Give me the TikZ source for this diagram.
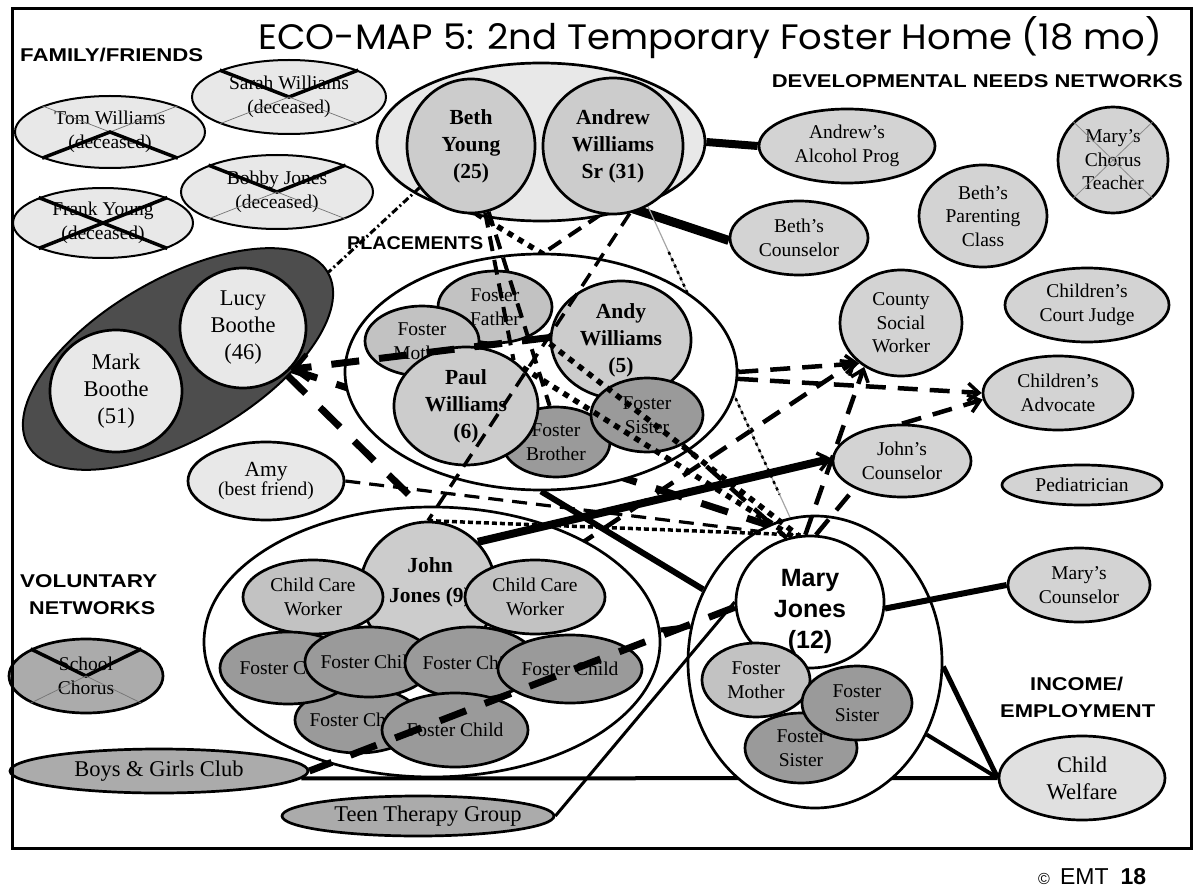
\documentclass[tikz,border=0pt]{standalone}
\usepackage{fontspec}
\usepackage{graphicx}
\setmainfont{Liberation Serif}
\newfontfamily\hd{Liberation Sans}
\newfontfamily\tfont{Poppins}
\usetikzlibrary{shapes.geometric,arrows.meta}
\pgfdeclarelayer{bg}
\pgfsetlayers{bg,main}
\newcommand\fsz[2]{\fontsize{#1}{#2}\selectfont}
\newcommand\hdg[2]{\resizebox{#1pt}{\height}{\hd\bfseries\fsz{18.5}{20}#2}}
\newcommand\xcr[3]{\draw[#2] (#1.north west) -- (#1.center) -- (#1.north east);
  \draw[#3] (#1.south west) -- (#1.center) -- (#1.south east);}
\definecolor{clt}{HTML}{E8E8E8}
\definecolor{cmid}{HTML}{CCCCCC}
\definecolor{cdev}{HTML}{D3D3D3}
\definecolor{cfos}{HTML}{C2C2C2}
\definecolor{cdk}{HTML}{9A9A9A}
\definecolor{cvol}{HTML}{ABABAB}
\definecolor{cboo}{HTML}{4D4D4D}
\definecolor{ccw}{HTML}{E0E0E0}
\tikzset{
  ell/.style={ellipse, draw=black, line width=2.7pt, inner sep=-40pt, align=center},
  wh/.style 2 args={minimum width=#1pt, minimum height=#2pt},
  rm/.style={font=\fsz{19.5}{23.5}},
  rmL/.style={font=\fsz{22.5}{27}},
  bd/.style={font=\fsz{21.5}{27}\bfseries},
  xk/.style={line width=3.5pt},
  xt/.style={line width=0.7pt, draw=black!55},
  xg/.style={line width=0.8pt, draw=black!45},
  thickdash/.style={line width=7pt, dash pattern=on 28pt off 20pt},
  meddash/.style={line width=4.5pt, dash pattern=on 20pt off 12pt},
  thindash/.style={line width=3.2pt, dash pattern=on 15pt off 9pt},
  sqdot/.style={line width=5.5pt, dash pattern=on 6pt off 6pt},
  smdot/.style={line width=3.5pt, dash pattern=on 5pt off 3pt},
  dashdot/.style={line width=3pt, dash pattern=on 7pt off 3pt on 2pt off 3pt},
  tipL/.style={-{Straight Barb[length=14pt,width=26pt,line width=5pt]}},
  tipM/.style={-{Straight Barb[length=11pt,width=18pt,line width=3.5pt]}},
}
\begin{document}
\begin{tikzpicture}[x=1pt,y=-1pt]
\useasboundingbox (0,0) rectangle (1196,893);

% ---------- title and headings
\node[anchor=base west, inner sep=0] (title) at (258,50) {\resizebox{904pt}{33pt}{\tfont ECO-MAP 5: 2nd Temporary Foster Home (18 mo)}};
\node[anchor=base west, inner sep=0] (hfam) at (20,62) {\hdg{183}{FAMILY/FRIENDS}};
\node[anchor=base east, inner sep=0] (hdev) at (1183,88) {\hdg{411}{DEVELOPMENTAL NEEDS NETWORKS}};
\node[anchor=base west, inner sep=0] (hvol1) at (20,587) {\hdg{137}{VOLUNTARY}};
\node[anchor=base west, inner sep=0] (hvol2) at (29,614) {\hdg{126}{NETWORKS}};
\node[anchor=base west, inner sep=0] (hinc1) at (1030,690) {\hdg{93}{INCOME/}};
\node[anchor=base west, inner sep=0] (hinc2) at (1000,717) {\hdg{155}{EMPLOYMENT}};
\node[anchor=base west, inner sep=0] (foot) at (1038,884) {\hd{\fsz{16}{16}©}\hspace{10pt}\fsz{23}{23}EMT\hspace{12pt}\bfseries 18};

% ---------- family / friends
\node[ell, line width=2pt, fill=clt, wh={194}{74}, rm] (sarah) at (289,97) {Sarah Williams\\(deceased)};
\node[ell, line width=2pt, fill=clt, wh={190}{72}, rm] (tom) at (110,132) {Tom Williams\\(deceased)};
\node[ell, line width=2pt, fill=clt, wh={192}{74}, rm] (bobby) at (277,192) {Bobby Jones\\(deceased)};
\node[ell, line width=2pt, fill=clt, wh={180}{70}, rm] (frank) at (103,223) {Frank Young\\(deceased)};
\xcr{sarah}{xk}{xt}
\xcr{tom}{xt}{xk}
\xcr{bobby}{xk}{xt}
\xcr{frank}{xk}{xk}

% ---------- parents
\node[ell, fill=clt, wh={328}{158}] (parents) at (541,142) {};
\node[ell, fill=cmid, wh={128}{134}, bd] (beth) at (471,146) {Beth\\Young\\(25)};
\node[ell, fill=cmid, wh={140}{136}, bd] (andrew) at (613,146) {Andrew\\Williams\\Sr (31)};

% ---------- developmental needs
\node[ell, fill=cdev, wh={176}{74}, rm] (alc) at (847,146) {Andrew’s\\Alcohol Prog};
\node[ell, fill=cdev, wh={138}{74}, rm] (bcoun) at (799,238) {Beth’s\\Counselor};
\node[ell, fill=cdev, wh={128}{102}, rm] (bpar) at (983,216) {Beth’s\\Parenting\\Class};
\node[ell, fill=cdev, wh={110}{106}, rm] (mchorus) at (1113,160) {Mary’s\\Chorus\\Teacher};
\xcr{mchorus}{xg}{xg}
\node[ell, fill=cdev, wh={122}{106}, rm] (csw) at (901,323) {County\\Social\\Worker};
\node[ell, fill=cdev, wh={164}{74}, rm] (judge) at (1087,305) {Children’s\\Court Judge};
\node[ell, fill=cdev, wh={150}{74}, rm] (adv) at (1058,393) {Children’s\\Advocate};
\node[ell, fill=cdev, wh={138}{72}, rm] (jcoun) at (902,461) {John’s\\Counselor};
\node[ell, fill=cdev, wh={160}{40}, rm] (ped) at (1082,485) {Pediatrician};
\node[ell, fill=cdev, wh={142}{74}, rm] (mcoun) at (1079,585) {Mary’s\\Counselor};
\node[ell, fill=ccw, wh={166}{84}, rmL] (cw) at (1082,778) {Child\\Welfare};

% ---------- Boothe
\node[ell, line width=2pt, fill=cboo, rotate=30, wh={346}{160}] (boothe) at (178,359) {};
\node[ell, fill=clt, wh={126}{120}, rmL] (lucy) at (243,328) {Lucy\\Boothe\\(46)};
\node[ell, fill=clt, wh={132}{122}, rmL] (mark) at (116,391) {Mark\\Boothe\\(51)};
\node[ell, fill=clt, wh={156}{78}] (amy) at (266,481) {{\fsz{21.5}{24}Amy}\\{\fsz{19.5}{23}(best friend)}};

% ---------- placements
\node[ell, fill=white, wh={392}{236}] (place) at (541,372) {};
\node[anchor=base west, inner sep=0] (hpl) at (347,250) {\hdg{136}{PLACEMENTS}};
\node[ell, fill=cfos, wh={114}{72}, rm] (ffather) at (495,307) {Foster\\Father};
\node[ell, fill=cfos, wh={114}{70}, rm] (fmother) at (422,341) {Foster\\Mother};
\node[ell, fill=cmid, wh={140}{118}, bd] (andy) at (621,340) {Andy\\Williams\\(5)};
\node[ell, fill=cdk, wh={108}{70}, rm] (fbro) at (556,442) {Foster\\Brother};
\node[ell, fill=cdk, wh={112}{74}, rm] (fsis) at (647,415) {Foster\\Sister};
\node[ell, fill=cmid, wh={144}{118}, bd] (paul) at (466,406) {Paul\\Williams\\(6)};

% ---------- John group
\node[ell, fill=white, wh={456}{270}] (jgroup) at (432,642) {};
\node[ell, fill=cmid, wh={136}{136}] (john) at (428,590) {};
\node[font=\fsz{21.5}{30}\bfseries, align=center] (johntxt) at (430,582) {John\\Jones (9)};
\node[ell, fill=cfos, wh={140}{74}, rm] (ccw1) at (313,597) {Child Care\\Worker};
\node[ell, fill=cfos, wh={140}{74}, rm] (ccw2) at (535,597) {Child Care\\Worker};
\node[ell, fill=cdk, wh={126}{66}, rm] (fc5) at (358,720) {Foster Child};
\node[ell, fill=cdk, wh={136}{72}, rm] (fc1) at (288,668) {Foster Child};
\node[ell, fill=cdk, wh={128}{70}, rm] (fc2) at (369,662) {Foster Child};
\node[ell, fill=cdk, wh={132}{72}, rm] (fc3) at (471,663) {Foster Child};
\node[ell, fill=cdk, wh={146}{74}, rm] (fc6) at (455,730) {Foster Child};
\node[ell, fill=cdk, wh={144}{68}, rm] (fc4) at (570,669) {Foster Child};

% ---------- Mary group
\node[ell, fill=white, wh={254}{292}] (mgroup) at (815,662) {};
\node[ell, fill=white, wh={148}{132}] (mary) at (810,602) {};
\node[font=\hd\bfseries\fsz{25}{31}, align=center] (marytxt) at (810,611) {Mary\\Jones\\(12)};
\node[ell, fill=cdk, wh={112}{70}, rm] (msis2) at (801,748) {Foster\\Sister};
\node[ell, fill=cfos, wh={108}{74}, rm] (mfmother) at (756,680) {Foster\\Mother};
\node[ell, fill=cdk, wh={110}{74}, rm] (msis1) at (857,703) {Foster\\Sister};

% ---------- voluntary
\node[ell, fill=cvol, wh={154}{74}, rm] (school) at (86,676) {School\\Chorus};
\xcr{school}{xk}{xt}
\node[ell, fill=cvol, wh={298}{44}, rmL] (bgc) at (159,771) {Boys \& Girls Club};
\node[ell, fill=cvol, wh={272}{40}, rmL] (teen) at (418,816) {\hspace*{20pt}Teen Therapy Group};

% ---------- connectors behind the nodes
\begin{pgfonlayer}{bg}
\draw[line width=8pt] (parents.east) -- (alc.west);
\draw[line width=9pt] (parents.-36) -- (bcoun.182);
\draw[thickdash] (lucy.-47) -- (jgroup.95);
\draw[thickdash] (lucy.-41) -- (mary.99);
\draw[line width=6pt] (place.south) -- (mgroup.147);
\draw[line width=5pt] (jgroup.3) -- (mgroup.164);
\draw[line width=4pt] (bgc.-3) -- (cw.west);
\draw[line width=5pt] (mgroup.-2) -- (cw.west);
\draw[line width=4pt] (mgroup.-33) -- (cw.west);
\draw[meddash, tipM] (place.east) -- (csw.-136);
\draw[meddash, tipM] (place.-2) -- (adv.west);
\draw[meddash, tipM] (jcoun.north) -- (adv.185);
\draw[meddash, tipM] (john.-8) -- (csw.-140);
\draw[line width=1.2pt, draw=black!35] (andrew.-60) -- (mary.100);
\draw[line width=2.5pt, dash pattern=on 3pt off 4pt, shorten <=50pt, shorten >=45pt] (andrew.-60) -- (mary.100);
\draw[sqdot] (beth.-85) -- (place.east);
\draw[thindash, line width=4pt] (andrew.-100) -- (ffather.60);
\draw[thindash] (amy.east) -- (mary.102);
\end{pgfonlayer}

% ---------- connectors over the nodes
\draw[thickdash, tipL] (andy.178) -- (lucy.-41);
\draw[line width=8pt, tipM] (john.44) -- (jcoun.178);
\draw[thickdash] (mary.184) -- (bgc.east);
\draw[line width=3pt] (teen.east) -- (mary.180);
\draw[line width=6pt] (mary.-5) -- (mcoun.west);
\draw[meddash, tipM] (mary.94) -- (csw.-130);
\draw[meddash] (mary.85) -- (jcoun.-150);
\draw[dashdot] (beth.-141) -- (boothe.east);
\draw[thindash, line width=3.5pt] (andrew.-76) -- (john.north);
\draw[thindash, line width=4pt] (beth.-78) -- (paul.44);
\draw[thindash, line width=4pt] (beth.-75) -- (fbro.100);
\draw[sqdot] (andy.183) -- (mary.100);
\draw[sqdot] (paul.34) -- (mary.105);
\draw[meddash] (fsis.-40) -- (mary.110);
\draw[smdot] (john.north) -- (mary.97);

% ---------- frame
\draw[line width=3pt] (12,9) rectangle (1191,848);
\end{tikzpicture}
\end{document}
